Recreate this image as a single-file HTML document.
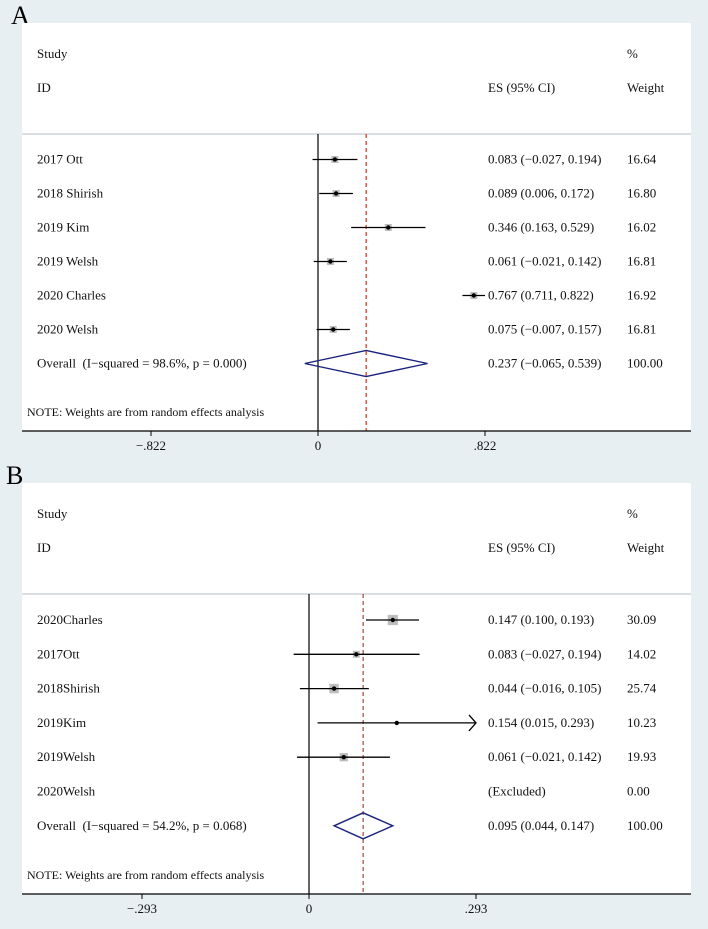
<!DOCTYPE html>
<html><head><meta charset="utf-8"><style>
html,body{margin:0;padding:0;background:#e8eff2;}
svg{display:block;font-family:"Liberation Serif",serif;}
</style></head><body>
<svg id="chart" width="708" height="929" viewBox="0 0 708 929">
<rect x="0" y="0" width="708" height="929" fill="#e8eff2"/>
<text x="11" y="24" font-size="26">A</text>
<text x="6" y="484" font-size="26">B</text>
</svg>
<script>
const studiesA = ["2017 Ott","2018 Shirish","2019 Kim","2019 Welsh","2020 Charles","2020 Welsh"];
const esA = [0.083,0.089,0.346,0.061,0.767,0.075];
const loA = [-0.027,0.006,0.163,-0.021,0.711,-0.007];
const hiA = [0.194,0.172,0.529,0.142,0.822,0.157];
const wA = [16.64,16.80,16.02,16.81,16.92,16.81];
const overallA = [0.237,-0.065,0.539];
const ticksA = [-0.822,0,0.822];
const tickLabelsA = ["\u2212.822","0",".822"];
const overallLabelA = "Overall\u00a0\u00a0(I\u2212squared = 98.6%, p = 0.000)";

const studiesB = ["2020Charles","2017Ott","2018Shirish","2019Kim","2019Welsh","2020Welsh"];
const esB = [0.147,0.083,0.044,0.154,0.061,null];
const loB = [0.100,-0.027,-0.016,0.015,-0.021,null];
const hiB = [0.193,0.194,0.105,0.293,0.142,null];
const wB = [30.09,14.02,25.74,10.23,19.93,0.00];
const overallB = [0.095,0.044,0.147];
const ticksB = [-0.293,0,0.293];
const tickLabelsB = ["\u2212.293","0",".293"];
const overallLabelB = "Overall\u00a0\u00a0(I\u2212squared = 54.2%, p = 0.068)";
const ciBoundB = 0.293;

const NS="http://www.w3.org/2000/svg";
const svg=document.getElementById('chart');
function mk(tag,attrs,parent){const e=document.createElementNS(NS,tag);for(const k in attrs)e.setAttribute(k,attrs[k]);(parent||svg).appendChild(e);return e;}
function txt(x,y,s,name,parent,anchor){const t=mk('text',{x:x,y:y,'font-size':13,fill:'#111','text-anchor':anchor||'start'},parent);t.textContent=s;


return t;}
function f3(v){return (v<0?"\u2212":"")+Math.abs(v).toFixed(3);}
function ci(e,l,h){return f3(e)+" ("+f3(l)+", "+f3(h)+")";}

function panel(o){
  const g=mk('g',{});
  
  
  const box=mk('rect',{x:22,y:o.top,width:669,height:o.axisY-o.top,fill:'#fff'},g);
  
  
  const X=v=>o.zeroX+v*o.scale;
  txt(37,o.top+35,"Study",'study-header',g);
  txt(37,o.top+69,"ID",'id-header',g);
  txt(488,o.top+69,"ES (95% CI)",'es-header',g);
  txt(627,o.top+35,"%",'percent-header',g);
  txt(627,o.top+69,"Weight",'weight-header',g);
  const hl=mk('line',{x1:22,x2:691,y1:o.top+111,y2:o.top+111,stroke:'#cfd3d6','stroke-width':1.5},g);
  
  
  const nullLine=mk('line',{x1:X(0),x2:X(0),y1:o.top+111,y2:o.axisY,stroke:'#000','stroke-width':1.2},g);
  
  
  const ov=mk('line',{x1:X(o.overall[0]),x2:X(o.overall[0]),y1:o.top+111,y2:o.axisY,stroke:'#c0392b','stroke-width':1.2,'stroke-dasharray':'4,3'},g);
  
  
  const rows=o.studies.length;
  for(let i=0;i<rows;i++){
    const y=o.firstRow+i*o.rowH;
    txt(37,y+4,o.studies[i],'study-label',g);
    if(o.es[i]===null){
      txt(488,y+4,"(Excluded)",'es-value',g);
    } else {
      txt(488,y+4,ci(o.es[i],o.lo[i],o.hi[i]),'es-value',g);
      const sz=o.sizeFn(o.w[i]);
      if(sz>0){const sq=mk('rect',{x:X(o.es[i])-sz/2,y:y-sz/2,width:sz,height:sz,fill:'#bdbdbd'},g);
        
        }
      const hiV=Math.min(o.hi[i],o.bound||99);
      const l=mk('line',{x1:X(o.lo[i]),x2:X(hiV),y1:y,y2:y,stroke:'#000','stroke-width':1.3},g);
      
      
      if(o.bound && o.hi[i]>=o.bound){
        const a=mk('polyline',{points:(X(hiV)-7)+","+(y-8)+" "+X(hiV)+","+y+" "+(X(hiV)-7)+","+(y+8),fill:'none',stroke:'#000','stroke-width':1.3},g);
        
        
      }
      const d=mk('circle',{cx:X(o.es[i]),cy:y,r:2.2,fill:'#000'},g);
      
      
    }
    txt(627,y+4,o.w[i].toFixed(2),'weight-value',g);
  }
  const yo=o.firstRow+rows*o.rowH;
  txt(37,yo+4,o.overallLabel,'overall-label',g);
  txt(488,yo+4,ci(o.overall[0],o.overall[1],o.overall[2]),'overall-es',g);
  txt(627,yo+4,"100.00",'overall-weight',g);
  const dm=mk('polygon',{points:X(o.overall[1])+","+yo+" "+X(o.overall[0])+","+(yo-13)+" "+X(o.overall[2])+","+yo+" "+X(o.overall[0])+","+(yo+13),fill:'none',stroke:'#1a237e','stroke-width':1.4},g);
  
  
  txt(27,o.axisY-15,"NOTE: Weights are from random effects analysis",'note',g).setAttribute('font-size',12);
  const ax=mk('line',{x1:22,x2:691,y1:o.axisY,y2:o.axisY,stroke:'#000','stroke-width':1.2},g);
  
  
  o.ticks.forEach((t,k)=>{
    const tk=mk('line',{x1:X(t),x2:X(t),y1:o.axisY,y2:o.axisY+5,stroke:'#000'},g);
    
    
    txt(X(t),o.axisY+19,o.tickLabels[k],'x-tick-label',g,'middle');
  });
}
panel({name:'panel-a',top:23,axisY:431,zeroX:318,scale:167/0.822,firstRow:159.5,rowH:34,
  studies:studiesA,es:esA,lo:loA,hi:hiA,w:wA,overall:overallA,ticks:ticksA,tickLabels:tickLabelsA,
  overallLabel:overallLabelA,sizeFn:w=>7});
panel({name:'panel-b',top:483,axisY:894,zeroX:309,scale:167/0.293,firstRow:620,rowH:34.3,
  studies:studiesB,es:esB,lo:loB,hi:hiB,w:wB,overall:overallB,ticks:ticksB,tickLabels:tickLabelsB,
  overallLabel:overallLabelB,bound:ciBoundB,sizeFn:w=>w<12?0:Math.sqrt(w)*1.85});
</script>
</body></html>
